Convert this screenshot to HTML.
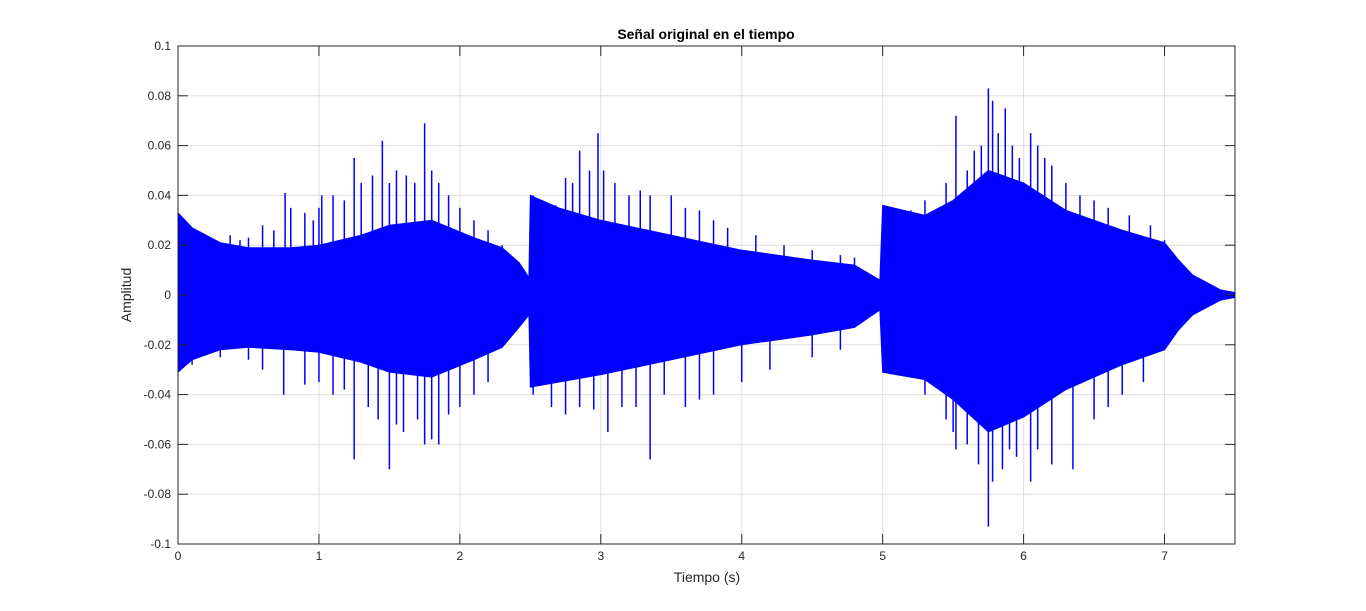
<!DOCTYPE html>
<html><head><meta charset="utf-8"><style>
body{margin:0;background:#fff;}
svg{display:block;font-family:"Liberation Sans",sans-serif;}
</style></head><body>
<svg id="chart" width="1366" height="611">
<rect x="0" y="0" width="1366" height="611" fill="#fff"/>
<g id="grid"></g>
<g id="wave"></g>
<g id="axes"></g>
<text x="706" y="39" text-anchor="middle" font-size="14" font-weight="bold" fill="#000">Señal original en el tiempo</text>
<text x="707" y="582" text-anchor="middle" font-size="14" fill="#262626">Tiempo (s)</text>
<text transform="translate(131,295) rotate(-90)" text-anchor="middle" font-size="14" fill="#262626">Amplitud</text>
</svg>
<script>
const xTicks=[0,1,2,3,4,5,6,7];
const yTicks=[-0.1,-0.08,-0.06,-0.04,-0.02,0,0.02,0.04,0.06,0.08,0.1];
const yTickLabels=["-0.1","-0.08","-0.06","-0.04","-0.02","0","0.02","0.04","0.06","0.08","0.1"];
const envT=[0,0.1,0.3,0.5,0.8,1.0,1.3,1.5,1.8,2.1,2.3,2.42,2.49,2.5,2.7,3.0,3.5,4.0,4.5,4.8,4.98,5.0,5.3,5.5,5.75,6.0,6.3,6.7,7.0,7.1,7.2,7.3,7.4,7.5];
const envUp=[0.033,0.027,0.021,0.019,0.019,0.02,0.024,0.028,0.03,0.023,0.019,0.013,0.007,0.04,0.035,0.03,0.024,0.018,0.014,0.012,0.006,0.036,0.032,0.038,0.05,0.045,0.034,0.026,0.021,0.014,0.008,0.005,0.002,0.001];
const envLo=[-0.031,-0.026,-0.022,-0.021,-0.022,-0.023,-0.027,-0.031,-0.033,-0.026,-0.021,-0.013,-0.008,-0.037,-0.035,-0.032,-0.026,-0.02,-0.016,-0.013,-0.006,-0.031,-0.034,-0.042,-0.055,-0.049,-0.038,-0.028,-0.022,-0.014,-0.008,-0.005,-0.002,-0.001];
const spikeUpT=[0.05,0.15,0.25,0.37,0.44,0.5,0.6,0.68,0.76,0.8,0.9,0.96,1.0,1.02,1.1,1.18,1.25,1.3,1.38,1.45,1.5,1.55,1.62,1.68,1.75,1.8,1.85,1.92,2.0,2.1,2.2,2.3,2.52,2.6,2.68,2.75,2.8,2.85,2.92,2.98,3.02,3.1,3.2,3.28,3.35,3.5,3.6,3.7,3.8,3.9,4.1,4.3,4.5,4.7,4.8,5.03,5.2,5.3,5.45,5.52,5.6,5.65,5.7,5.75,5.78,5.82,5.87,5.92,5.97,6.05,6.1,6.15,6.2,6.3,6.4,6.5,6.6,6.75,6.9,7.0];
const spikeUpV=[0.03,0.024,0.022,0.024,0.022,0.023,0.028,0.026,0.041,0.035,0.033,0.03,0.035,0.04,0.04,0.038,0.055,0.045,0.048,0.062,0.045,0.05,0.048,0.045,0.069,0.05,0.045,0.04,0.035,0.03,0.026,0.02,0.04,0.036,0.036,0.047,0.045,0.058,0.05,0.065,0.05,0.045,0.04,0.042,0.04,0.04,0.035,0.034,0.03,0.027,0.024,0.02,0.018,0.016,0.015,0.035,0.034,0.038,0.045,0.072,0.05,0.058,0.06,0.083,0.078,0.065,0.075,0.06,0.055,0.065,0.06,0.055,0.052,0.045,0.04,0.038,0.035,0.032,0.028,0.022];
const spikeLoT=[0.1,0.3,0.5,0.6,0.75,0.9,1.0,1.1,1.18,1.25,1.35,1.42,1.5,1.55,1.6,1.7,1.75,1.8,1.85,1.92,2.0,2.1,2.2,2.52,2.65,2.75,2.85,2.95,3.05,3.15,3.25,3.35,3.45,3.6,3.7,3.8,4.0,4.2,4.5,4.7,5.02,5.3,5.45,5.5,5.52,5.6,5.68,5.75,5.78,5.85,5.9,5.95,6.05,6.1,6.2,6.35,6.5,6.6,6.7,6.85];
const spikeLoV=[-0.028,-0.025,-0.026,-0.03,-0.04,-0.036,-0.035,-0.04,-0.038,-0.066,-0.045,-0.05,-0.07,-0.052,-0.055,-0.05,-0.06,-0.058,-0.06,-0.048,-0.045,-0.04,-0.035,-0.04,-0.045,-0.048,-0.045,-0.046,-0.055,-0.045,-0.045,-0.066,-0.04,-0.045,-0.042,-0.04,-0.035,-0.03,-0.025,-0.022,-0.03,-0.04,-0.05,-0.055,-0.062,-0.06,-0.068,-0.093,-0.075,-0.07,-0.062,-0.065,-0.075,-0.062,-0.068,-0.07,-0.05,-0.045,-0.04,-0.035];

const L=178,R=1235,T=46,B=544,X0=0,X1=7.5,Y0=-0.1,Y1=0.1;
const sx=v=>L+(v-X0)/(X1-X0)*(R-L);
const sy=v=>B-(v-Y0)/(Y1-Y0)*(B-T);
const NS="http://www.w3.org/2000/svg";
function mk(tag,attrs,parent){const e=document.createElementNS(NS,tag);for(const k in attrs)e.setAttribute(k,attrs[k]);parent.appendChild(e);return e;}
const grid=document.getElementById('grid'),wave=document.getElementById('wave'),axes=document.getElementById('axes');
xTicks.forEach(t=>{
  const g=mk('line',{x1:sx(t),x2:sx(t),y1:T,y2:B,stroke:'#dfdfdf','stroke-width':1},grid);
  
  
});
yTicks.forEach(t=>{
  const g=mk('line',{x1:L,x2:R,y1:sy(t),y2:sy(t),stroke:'#dfdfdf','stroke-width':1},grid);
  
  
});
let pts=envT.map((t,i)=>sx(t)+','+sy(envUp[i]));
for(let i=envT.length-1;i>=0;i--)pts.push(sx(envT[i])+','+sy(envLo[i]));
const poly=mk('polygon',{points:pts.join(' '),fill:'#0000ff',stroke:'#0000ff','stroke-width':1},wave);


spikeUpT.forEach((t,i)=>{
  const l=mk('line',{x1:sx(t),x2:sx(t),y1:sy(0),y2:sy(spikeUpV[i]),stroke:'#0000ff','stroke-width':1.5},wave);
  
  
});
spikeLoT.forEach((t,i)=>{
  const l=mk('line',{x1:sx(t),x2:sx(t),y1:sy(0),y2:sy(spikeLoV[i]),stroke:'#0000ff','stroke-width':1.5},wave);
  
  
});
const box=mk('rect',{x:L,y:T,width:R-L,height:B-T,fill:'none',stroke:'#262626','stroke-width':1},axes);


xTicks.forEach(t=>{
  mk('line',{x1:sx(t),x2:sx(t),y1:B,y2:B-10,stroke:'#262626'},axes);
  mk('line',{x1:sx(t),x2:sx(t),y1:T,y2:T+10,stroke:'#262626'},axes);
  const tx=mk('text',{x:sx(t),y:B+16,'text-anchor':'middle','font-size':12,fill:'#262626'},axes);
  tx.textContent=String(t);
  
  
});
yTicks.forEach((t,i)=>{
  mk('line',{x1:L,x2:L+10,y1:sy(t),y2:sy(t),stroke:'#262626'},axes);
  mk('line',{x1:R,x2:R-10,y1:sy(t),y2:sy(t),stroke:'#262626'},axes);
  const tx=mk('text',{x:L-7,y:sy(t)+4,'text-anchor':'end','font-size':12,fill:'#262626'},axes);
  tx.textContent=yTickLabels[i];
  
  
});
</script>
</body></html>
